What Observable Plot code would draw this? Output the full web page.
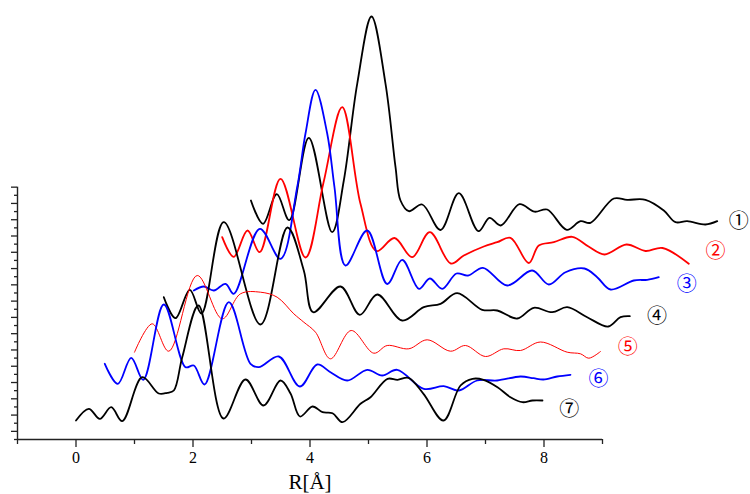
<!DOCTYPE html>
<html><head><meta charset="utf-8">
<script src="https://cdn.jsdelivr.net/npm/d3@7"></script>
<script src="https://cdn.jsdelivr.net/npm/@observablehq/plot@0.6"></script>
<style>body{margin:0;background:#fff}</style>
</head><body><div id="chart"></div>
<script>
// Waterfall of |chi(R)| curves, each shifted by 0.5 Å and offset vertically (values in arbitrary units)
const curve1R = [2.99,3.197,3.432,3.646,3.979,4.379,4.578,4.807,5.051,5.291,5.462,5.547,5.689,5.918,6.231,6.544,6.88,7.068,7.262,7.581,7.838,8.055,8.39,8.624,8.795,9.193,9.422,9.735,10.048,10.248,10.448,10.761,10.961];
const curve1V = [23.9,21.57,24.53,21.93,30.17,20.73,25.9,35.57,42.3,35.57,27.23,23.9,22.83,23.5,20.95,24.63,20.83,22.17,21.4,23.53,22.78,23.0,20.97,21.83,21.67,24.1,23.97,23.97,22.9,21.73,21.83,21.5,21.83];

const curve2R = [2.499,2.697,2.932,3.14,3.496,3.923,4.231,4.55,4.863,5.137,5.444,5.747,6.048,6.407,6.629,6.971,7.2,7.427,7.74,7.911,8.168,8.482,8.761,9.034,9.41,9.735,10.026,10.475];
const curve2V = [20.23,18.27,20.9,18.73,26.07,18.2,25.7,33.23,23.57,18.85,20.15,18.23,20.73,17.6,18.4,19.3,19.73,20.17,17.65,19.4,19.73,20.27,19.3,18.5,19.5,18.85,19.15,17.57];

const curve3R = [2.014,2.185,2.356,2.556,2.697,3.142,3.496,3.781,3.923,4.094,4.294,4.419,4.607,4.978,5.32,5.576,5.863,6.048,6.26,6.504,6.701,6.957,7.371,7.798,8.082,8.368,8.692,8.909,9.137,9.535,9.764,9.962];
const curve3V = [14.9,15.3,14.9,15.57,14.57,21.07,18.07,25.23,30.6,34.97,30.6,25.2,17.4,20.9,15.55,17.97,15.07,16.1,15.07,16.6,16.4,17.17,15.4,16.9,15.5,16.73,17.1,16.23,15.0,15.9,15.97,16.23];

const curve4R = [1.501,1.701,1.945,2.145,2.526,3.154,3.615,3.894,4.055,4.521,4.851,5.149,5.576,5.945,6.231,6.516,6.944,7.2,7.542,7.826,8.14,8.397,8.738,9.097,9.308,9.467];
const curve4V = [14.23,12.13,14.97,12.6,21.73,11.5,21.2,16.9,12.73,15.3,12.47,14.5,11.9,13.23,13.57,14.63,12.97,12.9,12.1,13.17,12.73,13.23,12.23,11.3,12.23,12.33];

const curve5R = [1.0,1.303,1.586,2.072,2.499,2.812,3.154,3.439,3.723,3.894,4.094,4.35,4.704,5.091,5.32,5.689,6.003,6.402,6.658,7.0,7.313,7.598,7.94,8.397,8.624,8.766,8.966];
const curve5V = [8.73,11.57,8.83,16.4,12.07,14.57,14.73,14.23,12.57,11.73,10.73,8.07,10.9,8.63,9.4,9.07,9.97,8.83,9.4,8.3,9.07,8.9,9.75,8.73,8.57,8.13,8.8];

const curve6R = [0.492,0.715,0.944,1.149,1.501,1.872,2.014,2.197,2.612,2.983,3.125,3.467,3.826,4.123,4.35,4.636,4.978,5.234,5.491,5.945,6.287,6.544,6.858,7.2,7.598,7.821,7.991,8.226,8.453];
const curve6V = [7.57,5.57,8.17,5.97,13.5,7.23,7.4,5.5,13.73,7.57,7.23,8.3,5.3,7.5,6.73,5.9,6.97,6.4,6.97,5.07,5.33,4.9,5.9,5.9,6.3,6.13,6.0,6.3,6.47];

const curve7R = [0.0,0.219,0.407,0.602,0.79,1.132,1.415,1.559,1.672,1.815,2.094,2.521,2.897,3.205,3.496,3.667,3.829,4.043,4.214,4.385,4.556,4.863,5.034,5.325,5.496,5.684,5.94,6.282,6.573,6.778,6.966,7.205,7.427,7.632,7.803,7.974];
const curve7V = [1.9,3.07,2.07,3.23,1.83,6.23,4.6,4.67,4.9,8.2,13.4,2.1,6.0,3.4,5.9,4.6,2.3,3.3,2.73,2.63,1.73,3.57,4.23,6.07,5.97,6.17,4.57,1.9,5.4,6.07,5.97,5.23,4.23,3.73,3.9,3.9];

const seriesLabels = ["①","②","③","④","⑤","⑥","⑦"];
const labelR = [11.33, 10.93, 10.44, 9.93, 9.43, 8.93, 8.43];
const labelV = [21.75, 18.8, 15.5, 12.3, 9.2, 5.95, 2.95];
const xTickLabels = [0, 2, 4, 6, 8];
const xMinorTicks = [-1, 1, 3, 5, 7, 9];

// styles
const seriesColors = ["#000", "#f00", "#00f", "#000", "#f00", "#00f", "#000"];
const seriesWidths = [1.8, 1.8, 1.8, 1.8, 1, 1.8, 1.8];

const curvesR = [curve1R, curve2R, curve3R, curve4R, curve5R, curve6R, curve7R];
const curvesV = [curve1V, curve2V, curve3V, curve4V, curve5V, curve6V, curve7V];

const yStep = 0.814;
const yTicks = d3.range(0, 32).map(k => k * yStep);
const yMajor = yTicks.filter((d, k) => k % 2 === 1);
const yMinor = yTicks.filter((d, k) => k % 2 === 0);
const yTop = yTicks[yTicks.length - 1];

const lineMarks = curvesR.map((rs, i) => {
  const pts = rs.map((r, j) => ({R: r, v: curvesV[i][j]}));
  return Plot.line(pts, {x: "R", y: "v", curve: "catmull-rom", stroke: seriesColors[i], strokeWidth: seriesWidths[i], strokeLinejoin: "round"});
});

const labels = seriesLabels.map((t, i) => ({t, R: labelR[i], v: labelV[i], c: seriesColors[i]}));

const chart = Plot.plot({
  width: 750,
  height: 494,
  marginLeft: 17, marginRight: 148, marginTop: 15, marginBottom: 55,
  x: {domain: [-1, 9], axis: null, label: null},
  y: {domain: [0, 42.4], axis: null, label: null},
  style: {fontFamily: "'Liberation Serif', 'Times New Roman', serif", background: "#fff", color: "#000"},
  marks: [
    ...lineMarks,
    Plot.ruleY([0], {x1: -1, x2: 9, stroke: "#222", strokeWidth: 1.4}),
    Plot.ruleX([-1], {y1: 0, y2: yTop, stroke: "#222", strokeWidth: 1.4}),
    Plot.axisX(xTickLabels, {tickSize: 8, tickPadding: 4, fontSize: 16, label: null, stroke: "#222", strokeWidth: 1.3}),
    Plot.axisX(xMinorTicks, {tickSize: 5, tickFormat: () => "", label: null, stroke: "#222", strokeWidth: 1.3}),
    Plot.axisY(yMajor, {anchor: "left", tickSize: 6, tickFormat: () => "", label: null, stroke: "#222", strokeWidth: 1.3}),
    Plot.axisY(yMinor, {anchor: "left", tickSize: 3, tickFormat: () => "", label: null, stroke: "#222", strokeWidth: 1.3}),
    Plot.text(["R[Å]"], {x: 4, frameAnchor: "bottom", dy: 49, lineAnchor: "bottom", fontSize: 21}),
    Plot.text(labels, {x: "R", y: "v", text: "t", fill: "c", fontSize: 20, fontFamily: "'Noto Sans CJK JP', 'DejaVu Sans', sans-serif"})
  ]
});
document.getElementById("chart").appendChild(chart);
</script>
</body></html>
